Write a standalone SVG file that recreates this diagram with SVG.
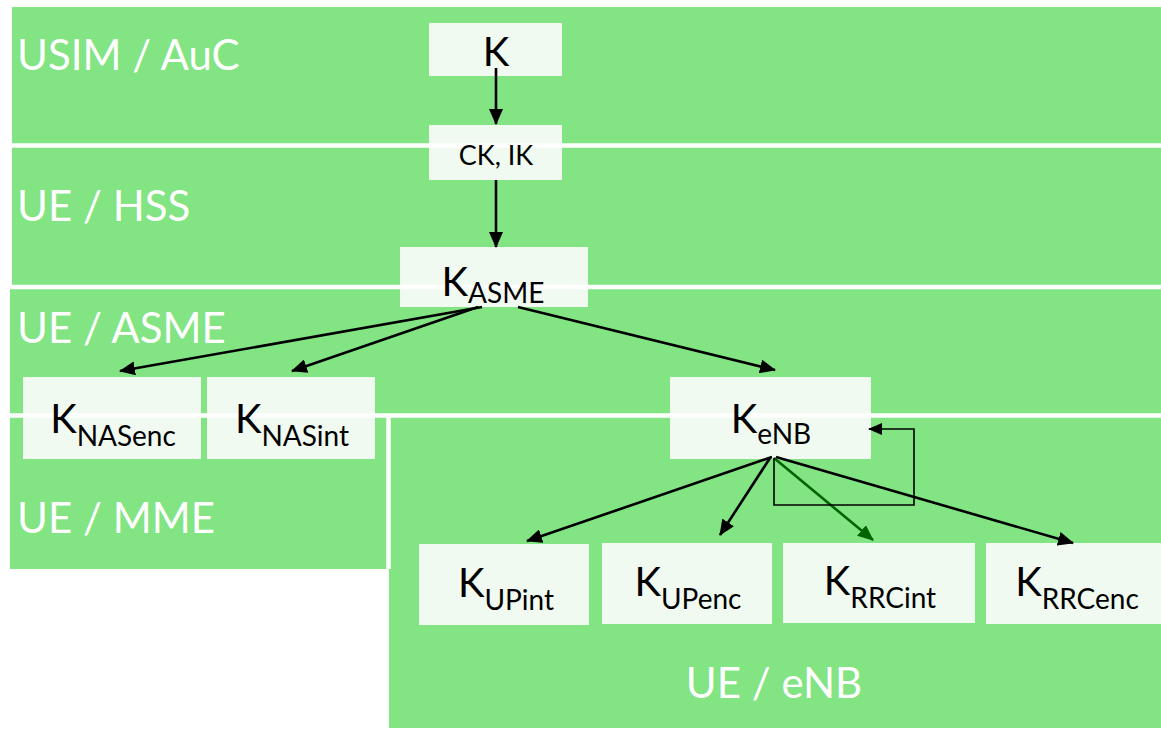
<svg xmlns="http://www.w3.org/2000/svg" width="1161" height="729" viewBox="0 0 1161 729">
  <style>
    .band { fill: #82e483; }
    .sep { stroke: #ffffff; stroke-width: 4.5; fill: none; }
    .box { fill: #f0faf0; }
    .lbl { font-family: Lato, "Open Sans", sans-serif; font-size: 42px; fill: #ffffff; }
    .key { font-family: Lato, "Open Sans", sans-serif; font-size: 40px; fill: #000000; text-anchor: middle; }
    .sub { font-size: 28px; }
    .edge { stroke: #000000; stroke-width: 2.6; fill: none; marker-end: url(#ah); }
    .edge-g { stroke: #006400; stroke-width: 2.6; fill: none; marker-end: url(#ahg); }
    .loop { stroke: #000000; stroke-width: 1.6; fill: none; marker-end: url(#ahs); }
  </style>
  <defs>
    <marker id="ah" markerUnits="userSpaceOnUse" markerWidth="16" markerHeight="14" refX="15" refY="7" orient="auto">
      <path d="M0,0 L16,7 L0,14 Z" fill="#000000"/>
    </marker>
    <marker id="ahg" markerUnits="userSpaceOnUse" markerWidth="16" markerHeight="14" refX="15" refY="7" orient="auto">
      <path d="M0,0 L16,7 L0,14 Z" fill="#006400"/>
    </marker>
    <marker id="ahs" markerUnits="userSpaceOnUse" markerWidth="14" markerHeight="12" refX="13" refY="6" orient="auto">
      <path d="M0,0 L14,6 L0,12 Z" fill="#000000"/>
    </marker>
  </defs>

  <!-- domain bands -->
  <g id="bands">
    <rect class="band" x="12" y="7" width="1149" height="138"/>
    <rect class="band" x="12" y="145" width="1149" height="141"/>
    <rect class="band" x="10" y="286" width="1151" height="130"/>
    <rect class="band" x="10" y="416" width="378" height="153"/>
    <rect class="band" x="389" y="416" width="772" height="312"/>
  </g>

  <!-- key boxes -->
  <g id="boxes">
    <rect class="box" x="429" y="23" width="133" height="53"/>
    <rect class="box" x="429" y="125" width="133" height="55"/>
    <rect class="box" x="400" y="247" width="188" height="60"/>
    <rect class="box" x="23" y="377" width="178" height="82"/>
    <rect class="box" x="207" y="377" width="168" height="82"/>
    <rect class="box" x="670" y="377" width="201" height="82"/>
    <rect class="box" x="419" y="544" width="170" height="81"/>
    <rect class="box" x="602" y="543" width="170" height="81"/>
    <rect class="box" x="783" y="543" width="192" height="80"/>
    <rect class="box" x="986" y="543" width="175" height="81"/>
  </g>

  <!-- white separators between the bands -->
  <g id="separators">
    <line class="sep" x1="12" y1="145.5" x2="1161" y2="145.5"/>
    <line class="sep" x1="10" y1="287" x2="1161" y2="287"/>
    <line class="sep" x1="10" y1="415.5" x2="1161" y2="415.5"/>
    <line class="sep" x1="388.5" y1="416" x2="388.5" y2="569"/>
  </g>

  <!-- band labels -->
  <g id="labels">
    <text class="lbl" x="17" y="70">USIM / AuC</text>
    <text class="lbl" x="17" y="221">UE / HSS</text>
    <text class="lbl" x="17" y="343">UE / ASME</text>
    <text class="lbl" x="17" y="533">UE / MME</text>
    <text class="lbl" x="774" y="698" text-anchor="middle">UE / eNB</text>
  </g>

  <!-- derivation connectors -->
  <g id="connectors">
    <line class="edge" x1="496" y1="68" x2="496" y2="124"/>
    <line class="edge" x1="496" y1="180" x2="496" y2="247"/>
    <line class="edge" x1="482" y1="307" x2="120" y2="371"/>
    <line class="edge" x1="478" y1="307" x2="292" y2="371"/>
    <line class="edge" x1="518" y1="307" x2="775" y2="370"/>
    <line class="edge" x1="772" y1="457" x2="527" y2="541"/>
    <line class="edge" x1="770" y1="458" x2="720" y2="535"/>
    <line class="edge-g" x1="774" y1="458" x2="873" y2="540"/>
    <line class="edge" x1="776" y1="457" x2="1073" y2="543"/>
    <polyline class="loop" points="774,458 774,505 914,505 914,429 869,429"/>
  </g>

  <!-- key labels -->
  <g id="n-k"><text class="key" x="496" y="66">K</text></g>
  <g id="n-ckik"><text class="key" x="496" y="165" style="font-size:27px">CK, IK</text></g>
  <g id="n-kasme"><text class="key" x="493" y="296">K<tspan class="sub" dy="7">ASME</tspan></text></g>
  <g id="n-knasenc"><text class="key" x="113" y="433">K<tspan class="sub" dy="13">NASenc</tspan></text></g>
  <g id="n-knasint"><text class="key" x="292" y="433">K<tspan class="sub" dy="13">NASint</tspan></text></g>
  <g id="n-kenb"><text class="key" x="771" y="433">K<tspan class="sub" dy="11">eNB</tspan></text></g>
  <g id="n-kupint"><text class="key" x="506" y="597">K<tspan class="sub" dy="13">UPint</tspan></text></g>
  <g id="n-kupenc"><text class="key" x="688" y="596">K<tspan class="sub" dy="13">UPenc</tspan></text></g>
  <g id="n-krrcint"><text class="key" x="880" y="595">K<tspan class="sub" dy="13">RRCint</tspan></text></g>
  <g id="n-krrcenc"><text class="key" x="1077" y="596">K<tspan class="sub" dy="13">RRCenc</tspan></text></g>
</svg>
